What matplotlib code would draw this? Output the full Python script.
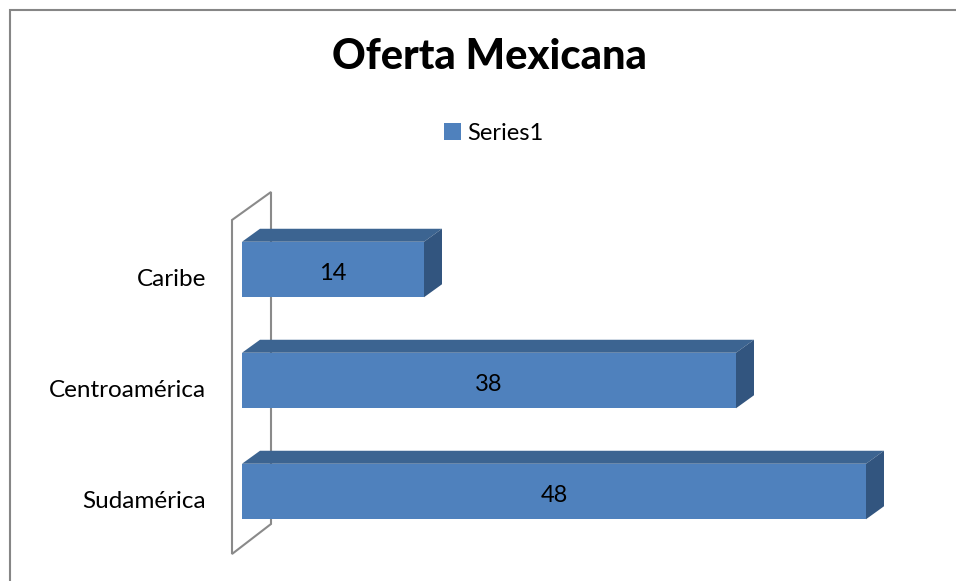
import numpy as np
import matplotlib
matplotlib.use("Agg")
import matplotlib.pyplot as plt
from matplotlib.patches import Polygon, Rectangle
from matplotlib.transforms import ScaledTranslation

categories = ["Caribe", "Centroamérica", "Sudamérica"]
values = [14, 38, 48]
series_name = "Series1"
title = "Oferta Mexicana"

FRONT, TOP, SIDE = "#4f81bd", "#3c6491", "#32557f"
WALL, FRAME, INK = "#8a8a8a", "#868686", "#000000"

plt.rcParams["font.family"] = ["Lato", "DejaVu Sans"]

fig = plt.figure(figsize=(9.56, 5.81), dpi=100)
ax = fig.add_axes([242/956, 28/581, 676/956, 333/581])
ax.set_xlim(0, 52)
ax.set_ylim(-0.554, 2.446)
ax.axis("off")

ypos = np.arange(len(categories))[::-1]   # first category on top
H = 0.5
DX, DY = 18, 13          # depth of the 3-D bars (pixels)

inv = ax.transData.inverted()
def shift(x, y, dx, dy):
    px, py = ax.transData.transform((x, y))
    return inv.transform((px + dx, py + dy))

# back wall of the 3-D plot (drawn as an outline)
ylo, yhi = ax.get_ylim()
wall = [shift(0, ylo, -10, -1), shift(0, yhi, -10, 0),
        shift(0, yhi, 29, 28), shift(0, ylo, 29, 29)]
ax.add_patch(Polygon(wall, closed=True, facecolor="white", edgecolor=WALL,
                     lw=1.5, zorder=1, clip_on=False))

bars = ax.barh(ypos, values, height=H, color=FRONT, label=series_name, zorder=3)
for y, v in zip(ypos, values):
    top = [(0, y + H/2), (v, y + H/2), shift(v, y + H/2, DX, DY), shift(0, y + H/2, DX, DY)]
    side = [(v, y - H/2), (v, y + H/2), shift(v, y + H/2, DX, DY), shift(v, y - H/2, DX, DY)]
    ax.add_patch(Polygon(top, closed=True, facecolor=TOP, edgecolor="none", zorder=3, clip_on=False))
    ax.add_patch(Polygon(side, closed=True, facecolor=SIDE, edgecolor="none", zorder=3, clip_on=False))
    ax.text(v / 2, y, str(v), ha="center", va="baseline", fontsize=17, color=INK, zorder=4,
            transform=ax.transData + ScaledTranslation(0, -10/100, fig.dpi_scale_trans))

for y, c in zip(ypos, categories):
    ax.text(0, y, c, ha="right", va="baseline", fontsize=17.5, color=INK,
            transform=ax.transData + ScaledTranslation(-36/100, -16/100, fig.dpi_scale_trans))

fig.text(489.5/956, 1 - 69/581, title, ha="center", va="baseline",
         fontsize=30, fontweight="black", color=INK)

fig.legend(handles=[bars], labels=[series_name], loc="center",
           bbox_to_anchor=(494/956, 1 - 133/581), frameon=False, fontsize=17,
           handlelength=0.7, handleheight=0.7, handletextpad=0.3)

# chart-area border (only left and top edges fall inside the picture)
fig.add_artist(Rectangle((10/956, -0.1), 1.2, 1.1 - 10/581, fill=False,
                         edgecolor=FRAME, lw=1.5, transform=fig.transFigure))

fig.savefig("out.png", dpi=100)
